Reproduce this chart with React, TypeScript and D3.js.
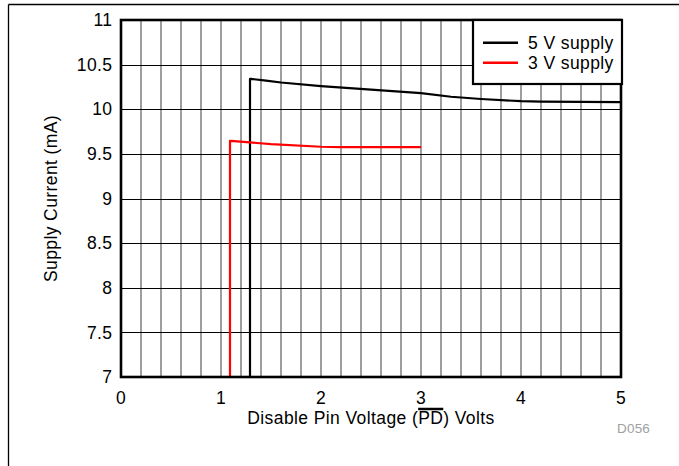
import React, { useLayoutEffect, useRef, useState } from "react";
import * as d3 from "d3";

const xTicks = [0, 1, 2, 3, 4, 5];
const yTicks = [7, 7.5, 8, 8.5, 9, 9.5, 10, 10.5, 11];
const xGrid = d3.range(0, 26).map((i) => i * 0.2);

const supply5V = [
  [1.29, 7],
  [1.29, 10.34],
  [1.3, 10.34],
  [1.45, 10.32],
  [1.6, 10.3],
  [2.0, 10.26],
  [2.5, 10.22],
  [3.0, 10.18],
  [3.3, 10.14],
  [3.6, 10.115],
  [4.0, 10.09],
  [4.2, 10.085],
  [5.0, 10.08],
];
const supply3V = [
  [1.09, 7],
  [1.09, 9.645],
  [1.1, 9.645],
  [1.5, 9.61],
  [2.0, 9.58],
  [2.2, 9.575],
  [3.0, 9.575],
];

const seriesNames = ["5 V supply", "3 V supply"];
const seriesColors = ["#000000", "#ff0000"];

const W = 679;
const H = 466;
const FONT = "Arial, 'Liberation Sans', Helvetica, sans-serif";
const FS = 17.5;
const LS = 0.4;

export default function App() {
  const x = d3.scaleLinear().domain([0, 5]).range([121, 621]);
  const y = d3.scaleLinear().domain([7, 11]).range([377, 20]);
  const line = d3
    .line<number[]>()
    .x((d) => x(d[0]))
    .y((d) => y(d[1]));

  const labelRef = useRef<SVGTextElement>(null);
  const [ov, setOv] = useState<{ x1: number; x2: number } | null>(null);
  const label = "Disable Pin Voltage (PD) Volts";
  useLayoutEffect(() => {
    const t = labelRef.current;
    if (!t) return;
    const i = label.indexOf("PD");
    try {
      const s = t.getStartPositionOfChar(i).x;
      const e = t.getEndPositionOfChar(i + 1).x;
      setOv({ x1: s, x2: e });
    } catch (err) {}
  }, []);

  const series = [supply5V, supply3V];
  const legX = 473;
  const legY = 20;
  const legW = 149;
  const legH = 64;

  return (
    <svg
      width={W}
      height={H}
      style={{ position: "absolute", left: 0, top: 0, background: "#fff" }}
      fontFamily={FONT}
      letterSpacing={LS}
    >
      <rect x={0} y={0} width={W} height={H} fill="#fff" />
      {/* outer border lines */}
      <line x1={8.5} x2={W} y1={4.5} y2={4.5} stroke="#000" strokeWidth={1.3} />
      <line x1={8.5} x2={8.5} y1={4.5} y2={H} stroke="#000" strokeWidth={1.3} />

      {/* vertical grid */}
      {xGrid.map((v, i) => (
        <line
          key={"vg" + i}
          x1={x(v)}
          x2={x(v)}
          y1={y(11)}
          y2={y(7)}
          stroke="#5e5e5e"
          strokeWidth={1.2}
        />
      ))}
      {/* horizontal grid */}
      {yTicks.map((v, i) => (
        <line
          key={"hg" + i}
          x1={x(0)}
          x2={x(5)}
          y1={Math.round(y(v)) + 0.5}
          y2={Math.round(y(v)) + 0.5}
          stroke="#000"
          strokeWidth={1}
        />
      ))}

      {/* series */}
      {series.map((s, i) => (
        <path
          key={"s" + i}
          d={line(s) || ""}
          fill="none"
          stroke={seriesColors[i]}
          strokeWidth={2.2}
          strokeLinejoin="round"
        />
      ))}

      {/* frame */}
      <rect
        x={x(0)}
        y={y(11)}
        width={x(5) - x(0)}
        height={y(7) - y(11)}
        fill="none"
        stroke="#000"
        strokeWidth={2.6}
      />

      {/* legend */}
      <rect
        x={legX}
        y={legY}
        width={legW}
        height={legH}
        fill="#fff"
        stroke="#000"
        strokeWidth={2.2}
      />
      {seriesNames.map((n, i) => (
        <g key={"lg" + i}>
          <line
            x1={483}
            x2={518}
            y1={42.7 + i * 20}
            y2={42.7 + i * 20}
            stroke={seriesColors[i]}
            strokeWidth={2.5}
          />
          <text x={528} y={48.8 + i * 20} fontSize={FS} fill="#000">
            {n}
          </text>
        </g>
      ))}

      {/* y tick labels */}
      {yTicks.map((v, i) => (
        <text
          key={"yt" + i}
          x={112.5}
          y={y(v)}
          dy="0.35em"
          textAnchor="end"
          fontSize={FS}
          fill="#000"
        >
          {String(v)}
        </text>
      ))}
      {/* x tick labels */}
      {xTicks.map((v, i) => (
        <text
          key={"xt" + i}
          x={x(v)}
          y={403.5}
          textAnchor="middle"
          fontSize={FS}
          fill="#000"
        >
          {String(v)}
        </text>
      ))}

      {/* axis titles */}
      <text
        ref={labelRef}
        x={(x(0) + x(5)) / 2}
        y={424}
        textAnchor="middle"
        fontSize={FS}
        fill="#000"
      >
        {label}
      </text>
      {ov && (
        <line
          x1={ov.x1}
          x2={ov.x2}
          y1={409}
          y2={409}
          stroke="#000"
          strokeWidth={2.5}
        />
      )}
      <text
        transform={`translate(57,${(y(7) + y(11)) / 2}) rotate(-90)`}
        textAnchor="middle"
        fontSize={FS}
        fill="#000"
      >
        Supply Current (mA)
      </text>
      <text x={617} y={433} fontSize={13.5} fill="#a0a0a0" letterSpacing={0.2}>
        D056
      </text>
    </svg>
  );
}
